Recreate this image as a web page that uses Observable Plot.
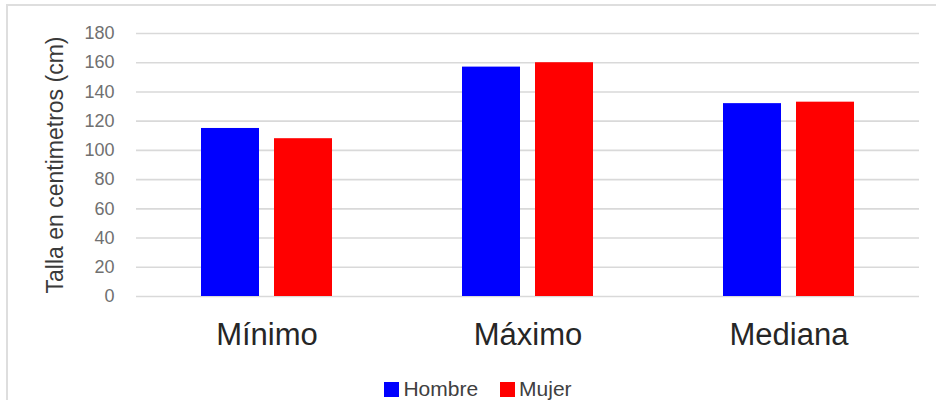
<!DOCTYPE html>
<html>
<head>
<meta charset="utf-8">
<script src="https://cdn.jsdelivr.net/npm/d3@7"></script>
<script src="https://cdn.jsdelivr.net/npm/@observablehq/plot@0.6"></script>
<style>
  html, body { margin: 0; padding: 0; background: #fff; }
  #wrap { position: relative; width: 936px; height: 400px; overflow: hidden; background: #fff; }
  #chart { position: absolute; left: 0; top: 0; }
  #frame { position: absolute; left: 6px; top: 4px; width: 960px; height: 420px;
           border: 2px solid #dedede; box-sizing: border-box; pointer-events: none; }
  #legend { position: absolute; left: 10px; top: 377px; width: 936px;
            display: flex; justify-content: center; }
  #legend .lg-swatches, #legend .lg-swatches-wrap {
    font: 21px "Liberation Sans", Arial, sans-serif !important; color: #404040 !important;
    margin: 0 !important; min-height: 0 !important; display: flex; align-items: center; }
  #legend .lg-swatch { margin-right: 22px !important; display: inline-flex; align-items: center; }
  #legend .lg-swatch:last-child { margin-right: 0 !important; }
  #legend .lg-swatch > svg { margin-right: 4px !important; }
</style>
</head>
<body>
<div id="wrap">
  <div id="chart"></div>
  <div id="legend"></div>
  <div id="frame"></div>
</div>
<script>
// Talla (cm) por estadístico y sexo
const categories = ["Mínimo", "Máximo", "Mediana"];
const series = ["Hombre", "Mujer"];
const hombre = [115, 157, 132];
const mujer = [108, 160, 133];
const yTicks = [0, 20, 40, 60, 80, 100, 120, 140, 160, 180];
const colors = ["#0000ff", "#ff0000"];

const rows = categories.flatMap((c, i) => [
  {categoria: c, sexo: series[0], talla: hombre[i]},
  {categoria: c, sexo: series[1], talla: mujer[i]}
]);

const font = '"Liberation Sans", Arial, sans-serif';

const plot = Plot.plot({
  width: 936,
  height: 360,
  marginLeft: 135,
  marginRight: 16,
  marginTop: 33,
  marginBottom: 64,
  style: {background: "none", fontFamily: font, overflow: "visible"},
  fx: {domain: categories, padding: 0, label: null, axis: null},
  x: {domain: series, paddingInner: 0.2, paddingOuter: 0.87, axis: null},
  y: {domain: [0, 180]},
  color: {domain: series, range: colors},
  marks: [
    Plot.ruleY(yTicks, {stroke: "#d9d9d9", strokeWidth: 1.6}),
    Plot.barY(rows, {fx: "categoria", x: "sexo", y: "talla", fill: "sexo"}),
    Plot.axisY({ticks: yTicks, tickSize: 0, tickPadding: 22, fontSize: 18,
      color: "#707070", label: null}),
    Plot.axisY({ticks: [], label: "Talla en centimetros (cm)", labelAnchor: "center",
      labelArrow: "none", labelOffset: 90, fontSize: 23, color: "#3a3a3a"}),
    Plot.axisFx({anchor: "bottom", tickSize: 0, tickPadding: 26, fontSize: 31,
      color: "#262626", label: null})
  ]
});
document.getElementById("chart").appendChild(plot);

const legend = plot.legend("color", {swatchSize: 15, className: "lg"});
document.getElementById("legend").appendChild(legend);
</script>
</body>
</html>
